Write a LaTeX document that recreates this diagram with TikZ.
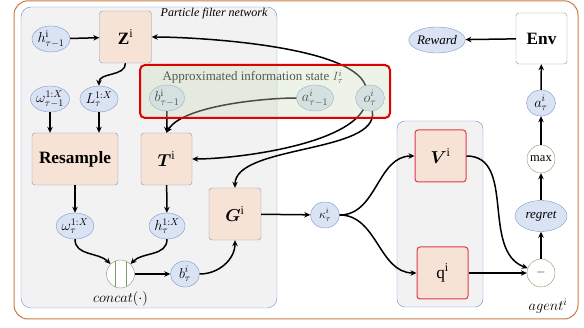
\documentclass[tikz,border=0pt]{standalone}
\usepackage{bm}
\usepackage{fontspec}
\setmainfont{Liberation Serif}
\usetikzlibrary{arrows.meta,shapes.geometric}

\definecolor{pfgray}{HTML}{F2F2F2}
\definecolor{pfblue}{HTML}{6E8FD0}
\definecolor{peach}{HTML}{F7E3D5}
\definecolor{slate}{HTML}{8497B0}
\definecolor{varfill}{HTML}{DAE3F3}
\definecolor{varline}{HTML}{7F96CD}
\definecolor{boxred}{HTML}{DE3A4A}
\definecolor{infored}{HTML}{E00000}
\definecolor{infogreen}{HTML}{CEDDBD}
\definecolor{opgreen}{HTML}{7D9B63}
\definecolor{envline}{HTML}{8A9A7B}
\definecolor{agentorange}{HTML}{C67B45}

\begin{document}
\begin{tikzpicture}
  [x=1pt,y=1pt,
   var/.style={ellipse,draw=varline,fill=varfill,minimum width=29pt,minimum height=26pt,inner sep=0pt,font=\fontsize{14.4}{15}\selectfont},
   block/.style={rectangle,rounded corners=3pt,draw=slate,fill=peach,minimum width=52pt,minimum height=52pt,inner sep=0pt,font=\fontsize{17.28}{19}\selectfont},
   redblock/.style={block,draw=boxred,line width=1pt},
   envbox/.style={rectangle,rounded corners=3pt,draw=envline,fill=white,minimum width=51pt,minimum height=51pt,font=\fontsize{17.28}{19}\selectfont\bfseries},
   op/.style={circle,draw=opgreen,fill=white,minimum size=28pt,inner sep=0pt,font=\fontsize{12.5}{13}\selectfont},
   concatop/.style={op,path picture={
       \draw[line width=1pt] ([xshift=-5.5pt]path picture bounding box.north) -- ([xshift=-5.5pt]path picture bounding box.south);
       \draw[line width=1pt] ([xshift=5.5pt]path picture bounding box.north) -- ([xshift=5.5pt]path picture bounding box.south);}},
   oval/.style={ellipse,draw=varline,fill=varfill,minimum width=52pt,minimum height=28pt,inner sep=0pt,font=\fontsize{13}{14}\selectfont\itshape},
   flow/.style={-{Stealth[length=6pt,width=5.5pt]},line width=1.5pt}]
  \useasboundingbox (0,0) rectangle (584,-328);
  \draw[agentorange,line width=1pt,rounded corners=14pt] (14,-0.8) rectangle (578,-319);
  \draw[pfblue,fill=pfgray,rounded corners=10pt] (21,-7) rectangle (277,-308);
  \draw[pfblue,fill=pfgray,rounded corners=8pt] (397,-121) rectangle (483,-307);

  \node[font=\fontsize{12}{13}\selectfont\itshape] (pflabel) at (214,-14) {Particle filter network};
  \node[var] (hprev) at (51,-39) {$h^{\mathrm{i}}_{\tau-1}$};
  \node[block] (zbox) at (125.5,-37) {$\mathbf{Z}^{\mathrm{i}}$};
  \node[var] (wprev) at (50,-99) {$\omega^{1:X}_{\tau-1}$};
  \node[var] (lpart) at (99,-99) {$L^{1:X}_{\tau}$};
  \node[var] (bprev) at (167,-98) {$b^{\mathrm{i}}_{\tau-1}$};
  \node[var] (aprev) at (315,-98) {$a^{i}_{\tau-1}$};
  \node[var] (obs) at (370,-98) {$o^{i}_{\tau}$};
  \node[block,minimum width=86pt] (resample) at (75,-159) {\textbf{Resample}};
  \node[block,minimum width=51pt] (tbox) at (166.5,-159) {$\bm{T}^{\mathrm{i}}$};
  \node[block] (gbox) at (235,-214) {$\bm{G}^{\mathrm{i}}$};
  \node[var] (wcur) at (75,-226) {$\omega^{1:X}_{\tau}$};
  \node[var] (hcur) at (167,-226) {$h^{1:X}_{\tau}$};
  \node[concatop] (concat) at (120.5,-274) {};
  \node[font=\fontsize{14.4}{15}\selectfont] (concatlabel) at (120.5,-299) {$concat(\cdot)$};
  \node[var] (bcur) at (185,-274) {$b^{i}_{\tau}$};
  \node[var,font=\fontsize{12}{13}\selectfont] (kappa) at (325,-215) {$\kappa^{i}_{\tau}$};
  \node[redblock,minimum width=51pt] (vbox) at (440.5,-156) {$\bm{V}^{\mathrm{i}}$};
  \node[redblock,minimum width=51pt] (qbox) at (442.5,-273) {$\mathrm{q}^{\mathrm{i}}$};
  \node[op] (minus) at (541,-273) {$-$};
  \node[oval,minimum height=31pt] (regret) at (541,-216) {regret};
  \node[op] (maxn) at (541,-159) {max};
  \node[var] (act) at (541,-103) {$a^{i}_{\tau}$};
  \node[envbox] (env) at (541.5,-38.5) {Env};
  \node[oval,minimum height=26pt] (reward) at (437,-40) {Reward};
  \node[font=\fontsize{14.4}{15}\selectfont] (agentlabel) at (548,-306) {$agent^{i}$};

\path[draw,flow]
    (hprev) edge (zbox)
    (zbox) edge [out=-90,in=90] (lpart)
    (wprev) edge (wprev |- resample.north)
    (lpart) edge (lpart |- resample.north)
    (bprev) edge (tbox)
    (aprev) edge [out=180,in=60,looseness=0.6] (tbox.north)
    (obs) edge [out=110,in=0,looseness=0.5] (zbox)
    (obs) edge [out=-120,in=0,looseness=0.6] (tbox)
    (obs) edge [out=-80,in=90,looseness=0.7] (gbox)
    (resample) edge (wcur)
    (tbox) edge (hcur)
    (wcur) edge [out=-90,in=135] (concat)
    (hcur) edge [out=-90,in=45] (concat)
    (concat) edge (bcur)
    (bcur) edge [out=0,in=-90] (gbox)
    (gbox) edge (kappa)
    (kappa) edge [out=0,in=180] (vbox)
    (kappa) edge [out=0,in=180] (qbox)
    (vbox) edge [out=0,in=160] (minus)
    (qbox) edge (minus)
    (minus) edge (regret)
    (regret) edge (maxn)
    (maxn) edge (act)
    (act) edge (env)
    (env) edge (reward)
    ;

  \draw[infored,line width=2pt,rounded corners=5pt,fill=infogreen,fill opacity=0.35] (140,-65) rectangle (390,-118);
  \node[anchor=west,text=black!65,font=\fontsize{13}{14}\selectfont] (infolabel) at (159,-77) {Approximated information state $I^{i}_{\tau}$};
\end{tikzpicture}
\end{document}
